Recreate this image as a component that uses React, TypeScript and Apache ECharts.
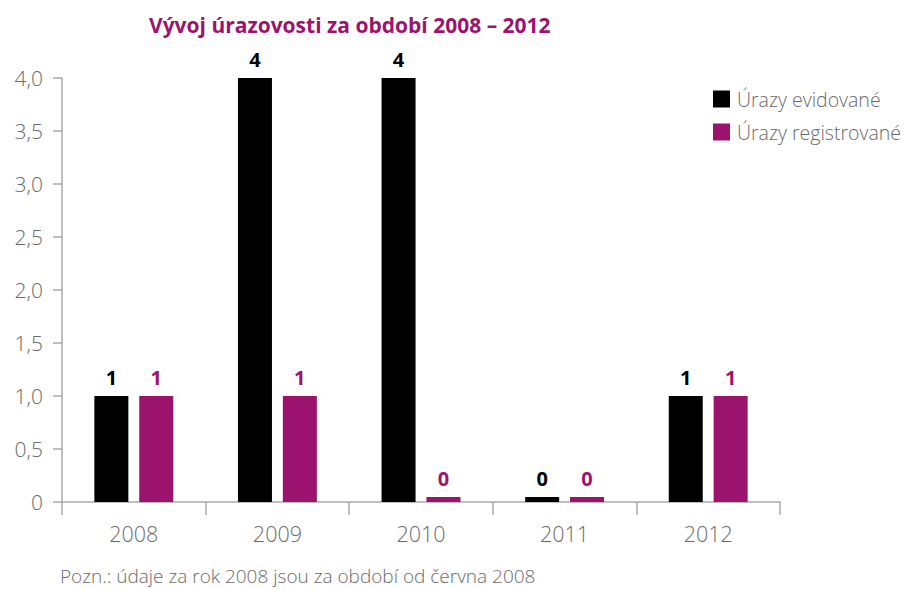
import React, { useEffect, useRef } from "react";
import * as echarts from "echarts";

const categories = ["2008", "2009", "2010", "2011", "2012"];
const evidovane = [1, 4, 4, 0, 1];
const registrovane = [1, 1, 0, 0, 1];
const seriesNames = ["Úrazy evidované", "Úrazy registrované"];
const yTicks = { min: 0, max: 4, interval: 0.5 };
const titleText = "Vývoj úrazovosti za období 2008 – 2012";
const noteText = "Pozn.: údaje za rok 2008 jsou za období od června 2008";

const BLACK = "#000000";
const MAGENTA = "#9c136e";
const GRAY = "#6a6a6a";
const FONT = "'Open Sans', 'Noto Sans', sans-serif";

export default function App() {
  const ref = useRef<HTMLDivElement>(null);
  useEffect(() => {
    document.body.style.margin = "0";
    const chart = echarts.init(ref.current!, null, { renderer: "svg" });
    const labelFor = (color: string) => ({
      show: true,
      position: "top",
      distance: 9,
      color,
      fontSize: 20,
      fontWeight: "bold",
      fontFamily: FONT,
    });
    chart.setOption({
      animation: false,
      textStyle: { fontFamily: FONT },
      title: {
        text: titleText,
        left: 144,
        top: 9,
        textStyle: { color: MAGENTA, fontSize: 21, fontWeight: "bold", fontFamily: FONT },
      },
      legend: {
        orient: "vertical",
        left: 713,
        top: 89,
        padding: 0,
        itemWidth: 17,
        itemHeight: 17,
        itemGap: 13,
        icon: "rect",
        textStyle: { color: GRAY, fontSize: 19.5, fontWeight: 300, fontFamily: FONT, padding: [0, 0, 0, 2] },
        data: seriesNames,
      },
      grid: { left: 62, right: 129, top: 78, bottom: 87, containLabel: false },
      xAxis: {
        type: "category",
        data: categories,
        axisLine: { lineStyle: { color: "#aaaaaa", width: 1.5 } },
        axisTick: { show: true, length: 13, lineStyle: { color: "#aaaaaa", width: 1.5 } },
        axisLabel: { color: GRAY, fontSize: 21.5, fontWeight: 300, margin: 20, fontFamily: FONT },
      },
      yAxis: {
        type: "value",
        min: yTicks.min,
        max: yTicks.max,
        interval: yTicks.interval,
        splitLine: { show: false },
        axisLine: { show: true, lineStyle: { color: "#aaaaaa", width: 1.5 } },
        axisTick: { show: true, length: 9, lineStyle: { color: "#aaaaaa", width: 1.5 } },
        axisLabel: {
          color: GRAY,
          fontSize: 21,
          fontWeight: 300,
          margin: 19,
          fontFamily: FONT,
          formatter: (v: number) => (v === 0 ? "0" : v.toFixed(1).replace(".", ",")),
        },
      },
      series: [
        {
          name: seriesNames[0],
          type: "bar",
          data: evidovane,
          barWidth: 34,
          barGap: "32%",
          barMinHeight: 5,
          itemStyle: { color: BLACK },
          label: labelFor(BLACK),
        },
        {
          name: seriesNames[1],
          type: "bar",
          data: registrovane,
          barWidth: 34,
          barMinHeight: 5,
          itemStyle: { color: MAGENTA },
          label: labelFor(MAGENTA),
        },
      ],
      graphic: [
        {
          type: "text",
          left: 60,
          top: 566,
          style: { text: noteText, fill: GRAY, fontSize: 19, fontWeight: 300, fontFamily: FONT },
        },
      ],
    });
    return () => chart.dispose();
  }, []);
  return <div ref={ref} style={{ position: "absolute", left: 0, top: 0, width: 909, height: 589 }} />;
}
